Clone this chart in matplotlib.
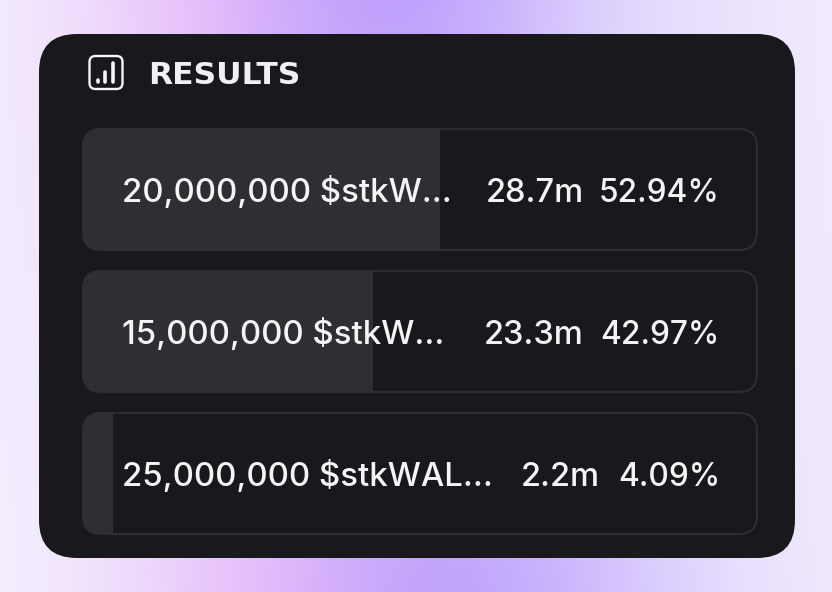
import matplotlib
matplotlib.use("Agg")
import matplotlib.pyplot as plt
import numpy as np
from matplotlib.colors import to_rgb
from matplotlib.patches import FancyBboxPatch

plt.rcParams['font.family'] = ['Inter', 'DejaVu Sans']

# data
title = "RESULTS"
labels = ["20,000,000 $stkW...", "15,000,000 $stkW...", "25,000,000 $stkWAL..."]
amounts = ["28.7m", "23.3m", "2.2m"]
percents = [52.94, 42.97, 4.09]
bar_widths = [52.94, 42.97, 4.45]   # last bar is a bit wider than its value in the picture

# background colours, rough grid
bg_top = ["#f3edfe", "#eed6fb", "#e6b6f9", "#c4a2fb", "#b898fd", "#ccb6fd", "#e2d8fd", "#ebe2fd", "#f3ecfe"]
bg_mid = ["#f3ecfe", "#efe4fd", "#e6d6fc", "#d8c4fc", "#d0bcfc", "#d8c8fd", "#e4dbfd", "#ebe4fd", "#f2ebfe"]
bg_bot = ["#f5f0fe", "#efe2fd", "#ecc4fb", "#dbb0fa", "#bb9cfc", "#bfa6fd", "#d3c2fd", "#e6dcfd", "#f2eafe"]

W, H = 832, 592
fig = plt.figure(figsize=(W / 100, H / 100), dpi=100)

# main layer in pixel coords
ax = fig.add_axes([0, 0, 1, 1])
grid = np.array([[to_rgb(c) for c in row] for row in [bg_top, bg_mid, bg_bot]])
ax.imshow(grid, extent=(-52, 884, 717.5, -125.5), aspect="auto", interpolation="bicubic", zorder=0)
ax.set_xlim(0, W)
ax.set_ylim(H, 0)
ax.axis("off")

card = FancyBboxPatch((39 + 38, 34 + 38), 756 - 76, 524 - 76, boxstyle="round,pad=38,rounding_size=38",
                      fc="#19191d", ec="none", zorder=1)
ax.add_patch(card)

# icon
ax.add_patch(FancyBboxPatch((93, 59.5), 26, 26, boxstyle="round,pad=3.5,rounding_size=6",
                            fc="none", ec="#f5f5f5", lw=1.7, zorder=3))
ax.vlines([97.8, 105.2, 113], [79.5, 72, 62.5], [81.5, 81.5, 81.5], color="#f5f5f5", lw=2.6, capstyle="round", zorder=3)
ax.text(148, 84, title, color="#f0f0f2", fontsize=22.6, fontweight="bold", family=["DejaVu Sans"],
        va="baseline", ha="left", zorder=3)

# bars
row_top = [129, 271, 413]
row_h = 121
bx = fig.add_axes([83 / W, 1 - 534 / H, 674 / W, (534 - 129) / H])
bx.set_xlim(0, 100)
bx.set_ylim(2 + (534 - 473.5) / 142, -(189.5 - 129) / 142)
bx.axis("off")
bx.patch.set_alpha(0)

ypos = np.arange(3)
bars = bx.barh(ypos, bar_widths, height=row_h / 142, color="#2e2e33", zorder=1)

value_right = [500.5, 500.5, 517]
for i, r in enumerate(bars):
    frame = FancyBboxPatch((83 + 18, row_top[i] + 18), 674 - 36, row_h - 36,
                           boxstyle="round,pad=18,rounding_size=18", fc="none", ec="#2c2c31", lw=1.6, zorder=2)
    ax.add_patch(frame)
    clip = FancyBboxPatch((83 + 18, row_top[i] + 18), 674 - 36, row_h - 36,
                          boxstyle="round,pad=18,rounding_size=18", fc="none", ec="none")
    ax.add_patch(clip)
    r.set_clip_path(clip)

    y = i + 0.09
    bx.text(38.5 / 6.74, y, labels[i], color="#f4f4f5", fontsize=23.8, fontweight=500, va="baseline", ha="left", zorder=3)
    bx.text(637 / 6.74, y, f"{percents[i]:.2f}%", color="#f4f4f5", fontsize=22.8, fontweight=500,
            va="baseline", ha="right", zorder=3)
    bx.text(value_right[i] / 6.74, y, amounts[i], color="#f4f4f5", fontsize=23.5, fontweight=500,
            va="baseline", ha="right", zorder=3)

fig.savefig("out.png", dpi=100)
